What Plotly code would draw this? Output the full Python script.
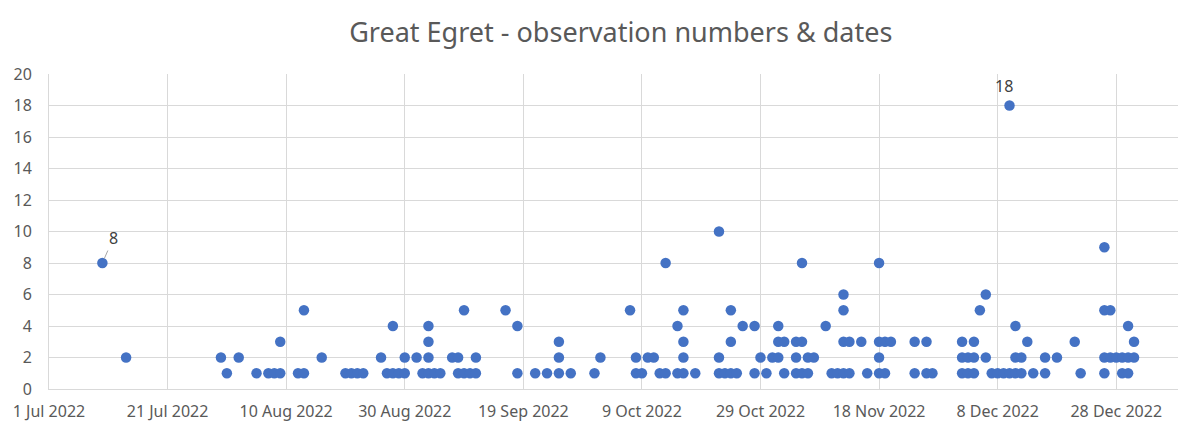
import plotly.graph_objects as go

# Great Egret sightings: one entry per observation (date, number of birds)
obs_dates = [
    "2022-07-10", "2022-07-14", "2022-07-30", "2022-07-31", "2022-08-02",
    "2022-08-05", "2022-08-07", "2022-08-08", "2022-08-09", "2022-08-09",
    "2022-08-12", "2022-08-13", "2022-08-13", "2022-08-16",
    "2022-08-20", "2022-08-21", "2022-08-22", "2022-08-23",
    "2022-08-26", "2022-08-27", "2022-08-28", "2022-08-28", "2022-08-29",
    "2022-08-30", "2022-08-30",
    "2022-09-01", "2022-09-02", "2022-09-03", "2022-09-03", "2022-09-03", "2022-09-03",
    "2022-09-04", "2022-09-05", "2022-09-07", "2022-09-08", "2022-09-08",
    "2022-09-09", "2022-09-09", "2022-09-10", "2022-09-11", "2022-09-11",
    "2022-09-16", "2022-09-18", "2022-09-18", "2022-09-21", "2022-09-23",
    "2022-09-25", "2022-09-25", "2022-09-25", "2022-09-27",
    "2022-10-01", "2022-10-02", "2022-10-07", "2022-10-08", "2022-10-08",
    "2022-10-09", "2022-10-10", "2022-10-11", "2022-10-12", "2022-10-13", "2022-10-13",
    "2022-10-15", "2022-10-15", "2022-10-16", "2022-10-16", "2022-10-16", "2022-10-16",
    "2022-10-18", "2022-10-22", "2022-10-22", "2022-10-22", "2022-10-23",
    "2022-10-24", "2022-10-24", "2022-10-24", "2022-10-25", "2022-10-26",
    "2022-10-28", "2022-10-28", "2022-10-29", "2022-10-30", "2022-10-31",
    "2022-11-01", "2022-11-01", "2022-11-01", "2022-11-02", "2022-11-02",
    "2022-11-04", "2022-11-04", "2022-11-04", "2022-11-05", "2022-11-05", "2022-11-05",
    "2022-11-06", "2022-11-06", "2022-11-07", "2022-11-09", "2022-11-10", "2022-11-11",
    "2022-11-12", "2022-11-12", "2022-11-12", "2022-11-12", "2022-11-13", "2022-11-13",
    "2022-11-15", "2022-11-16", "2022-11-18", "2022-11-18", "2022-11-18", "2022-11-18",
    "2022-11-19", "2022-11-19", "2022-11-20", "2022-11-24", "2022-11-24",
    "2022-11-26", "2022-11-26", "2022-11-27",
    "2022-12-02", "2022-12-02", "2022-12-02", "2022-12-03", "2022-12-03",
    "2022-12-04", "2022-12-04", "2022-12-04", "2022-12-05", "2022-12-06", "2022-12-06",
    "2022-12-07", "2022-12-08", "2022-12-09", "2022-12-10", "2022-12-10",
    "2022-12-11", "2022-12-11", "2022-12-11", "2022-12-12", "2022-12-12",
    "2022-12-13", "2022-12-14", "2022-12-16", "2022-12-16", "2022-12-18",
    "2022-12-21", "2022-12-22",
    "2022-12-26", "2022-12-26", "2022-12-26", "2022-12-26", "2022-12-27", "2022-12-27",
    "2022-12-28", "2022-12-29", "2022-12-29", "2022-12-30", "2022-12-30", "2022-12-30",
    "2022-12-31", "2022-12-31",
]
bird_counts = [
    8, 2, 2, 1, 2,
    1, 1, 1, 1, 3,
    1, 1, 5, 2,
    1, 1, 1, 1,
    2, 1, 1, 4, 1,
    1, 2,
    2, 1, 1, 2, 3, 4,
    1, 1, 2, 1, 2,
    1, 5, 1, 1, 2,
    5, 1, 4, 1, 1,
    1, 2, 3, 1,
    1, 2, 5, 1, 2,
    1, 2, 2, 1, 1, 8,
    1, 4, 1, 2, 3, 5,
    1, 1, 2, 10, 1,
    1, 3, 5, 1, 4,
    1, 4, 2, 1, 2,
    2, 3, 4, 1, 3,
    1, 2, 3, 1, 3, 8,
    1, 2, 2, 4, 1, 1,
    1, 3, 5, 6, 1, 3,
    3, 1, 1, 2, 3, 8,
    1, 3, 3, 1, 3,
    1, 3, 1,
    1, 2, 3, 1, 2,
    1, 2, 3, 5, 2, 6,
    1, 1, 1, 1, 18,
    1, 2, 4, 1, 2,
    3, 1, 1, 2, 2,
    3, 1,
    1, 2, 5, 9, 2, 5,
    2, 1, 2, 1, 2, 4,
    2, 3,
]

# observations that carry a value label
labelled_obs = [("2022-07-10", 8), ("2022-12-10", 18)]

TITLE = "Great Egret - observation numbers & dates"
X_START, X_END = "2022-07-01", "2023-01-07 10:00"
Y_MAX, Y_STEP = 20, 2
DAY_MS = 86400000

TEXT = "#595959"
GRID = "#d9d9d9"
BLUE = "#4472C4"
FONT = "Noto Sans"

fig = go.Figure()
fig.add_trace(go.Scatter(
    x=obs_dates, y=bird_counts, mode="markers",
    marker=dict(color=BLUE, size=10.5, line=dict(width=0)),
    hoverinfo="x+y", showlegend=False,
))

# value labels, taken from the plotted observation itself
for d, v in labelled_obs:
    idx = next(i for i, (dd, vv) in enumerate(zip(obs_dates, bird_counts)) if dd == d and vv == v)
    val = bird_counts[idx]
    if val < 10:
        fig.add_annotation(
            x=obs_dates[idx], y=val, text=str(val),
            showarrow=True, arrowhead=0, arrowwidth=1, arrowcolor="#a6a6a6",
            ax=11, ay=-25, standoff=5,
            font=dict(family=FONT, size=16, color="#404040"),
        )
    else:
        fig.add_annotation(
            x=obs_dates[idx], y=val, text=str(val), showarrow=False,
            xshift=-6, yshift=20,
            font=dict(family=FONT, size=16, color="#404040"),
        )

fig.update_layout(
    width=1178, height=422,
    margin=dict(l=49, r=0, t=74, b=33),
    paper_bgcolor="white", plot_bgcolor="white",
    title=dict(
        text=TITLE, x=0.527, xanchor="center", y=1 - 33 / 422, yanchor="middle",
        yref="container", font=dict(family=FONT, size=27, color=TEXT),
    ),
    font=dict(family=FONT, color=TEXT),
)
fig.update_xaxes(
    type="date", range=[X_START, X_END],
    tick0=X_START, dtick=20 * DAY_MS, tickformat="%-d %b %Y",
    showgrid=True, gridcolor=GRID, gridwidth=1,
    showline=True, linecolor=GRID, linewidth=1,
    ticks="", ticklabelstandoff=8,
    tickfont=dict(family=FONT, size=16, color=TEXT),
    zeroline=False,
)
fig.update_yaxes(
    range=[0, Y_MAX], dtick=Y_STEP, tick0=0,
    showgrid=True, gridcolor=GRID, gridwidth=1,
    showline=True, linecolor=GRID, linewidth=1,
    ticks="", ticklabelstandoff=13,
    tickfont=dict(family=FONT, size=16, color=TEXT),
    zeroline=False,
)

fig.write_html("out.html")
